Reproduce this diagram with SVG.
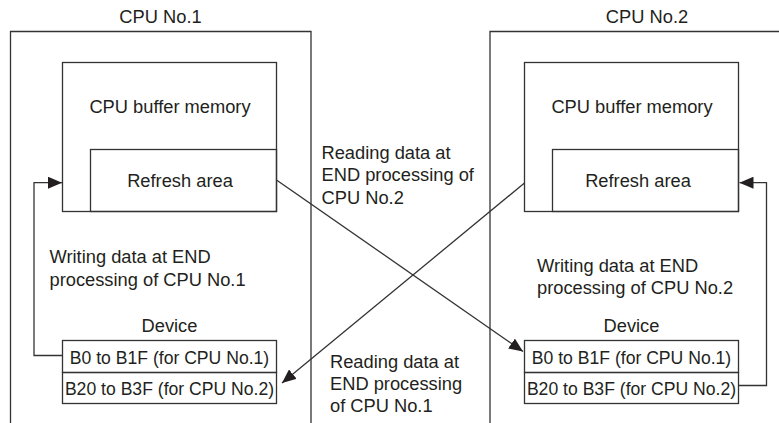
<svg xmlns="http://www.w3.org/2000/svg" width="779" height="423" viewBox="0 0 779 423">
<defs>
<style>
.box{fill:none;stroke:#333;stroke-width:1.3}
.fillbox{fill:#fff;stroke:#333;stroke-width:1.3}
.ln{fill:none;stroke:#333;stroke-width:1.3}
text{font-family:"Liberation Sans",Arial,sans-serif;fill:#231f20;font-size:18.3px}
.c{text-anchor:middle}
.dev{font-size:17.6px}
</style>
<marker id="ah" viewBox="0 0 14 12" refX="14" refY="6" markerWidth="14" markerHeight="12" markerUnits="userSpaceOnUse" orient="auto">
<path d="M0,0 L14,6 L0,12 Z" fill="#231f20"/>
</marker>
</defs>
<rect width="779" height="423" fill="#fff"/>

<g id="cpu1">
<path class="box" d="M10.5,423 V31.5 H311 V423"/>
<text class="c" x="160.5" y="23.3">CPU No.1</text>
</g>
<g id="cpu1-buffer">
<rect class="box" x="62.5" y="62.5" width="214" height="149"/>
<text class="c" x="170" y="113.3">CPU buffer memory</text>
</g>
<g id="cpu1-refresh">
<rect class="box" x="90.5" y="149.5" width="186" height="62"/>
<text class="c" x="180" y="187">Refresh area</text>
</g>
<g id="cpu1-device">
<text class="c" x="169.5" y="331.7">Device</text>
<rect class="box" x="62.5" y="340.5" width="214" height="32"/>
<rect class="box" x="62.5" y="372.5" width="214" height="31"/>
<text class="c dev" x="169.5" y="363.5">B0 to B1F (for CPU No.1)</text>
<text class="c dev" x="169.5" y="395">B20 to B3F (for CPU No.2)</text>
</g>

<g id="cpu2">
<path class="box" d="M490,423 V31.5 H790"/>
<text class="c" x="647" y="23.3">CPU No.2</text>
</g>
<g id="cpu2-buffer">
<rect class="box" x="524.5" y="62.5" width="214" height="149"/>
<text class="c" x="632" y="113.3">CPU buffer memory</text>
</g>
<g id="cpu2-refresh">
<rect class="box" x="552.5" y="149.5" width="186" height="62"/>
<text class="c" x="638" y="187">Refresh area</text>
</g>
<g id="cpu2-device">
<text class="c" x="631.5" y="331.7">Device</text>
<rect class="box" x="524.5" y="340.5" width="214" height="32"/>
<rect class="box" x="524.5" y="372.5" width="214" height="31"/>
<text class="c dev" x="631.5" y="363.5">B0 to B1F (for CPU No.1)</text>
<text class="c dev" x="631.5" y="395">B20 to B3F (for CPU No.2)</text>
</g>

<g id="connectors">
<path class="ln" d="M62.5,355.5 H34 V182.7 H62" marker-end="url(#ah)"/>
<path class="ln" d="M738.5,385.5 H766.5 V182.7 H739.5" marker-end="url(#ah)"/>
<path class="ln" d="M276.5,180 L523,351.5" marker-end="url(#ah)"/>
<path class="ln" d="M524.5,183 L282,383" marker-end="url(#ah)"/>
</g>

<g id="labels">
<text x="49.5" y="262.5">Writing data at END</text>
<text x="49.5" y="285.5">processing of CPU No.1</text>
<text x="537" y="271.5">Writing data at END</text>
<text x="537" y="293.5">processing of CPU No.2</text>
<text x="321.5" y="158.5">Reading data at</text>
<text x="321.5" y="181">END processing of</text>
<text x="321.5" y="203.5">CPU No.2</text>
<text x="330" y="367.5">Reading data at</text>
<text x="330" y="389.5">END processing</text>
<text x="330" y="411.5">of CPU No.1</text>
</g>
</svg>
